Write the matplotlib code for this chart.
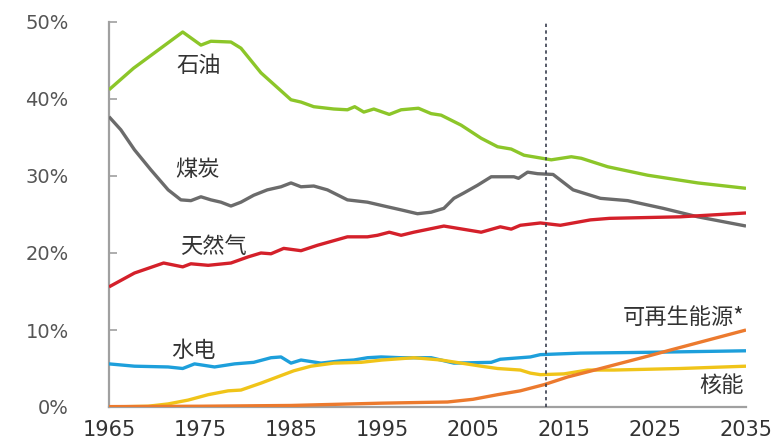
import matplotlib
matplotlib.use("Agg")
import matplotlib.pyplot as plt
import numpy as np

plt.rcParams['font.family'] = ['DejaVu Sans']

# ---- data (share of primary energy, %) ----
oil_years = [1965, 1967.7, 1970, 1973.1, 1975.1, 1976.2, 1978.4, 1979.5, 1981.7, 1985, 1986.1,
             1987.5, 1989.7, 1991.2, 1992, 1993, 1994.1, 1995.8, 1997.1, 1999, 2000.4, 2001.5,
             2003.7, 2005.9, 2007.7, 2009.2, 2010.6, 2012.1, 2013.6, 2015.8, 2016.9, 2019.8,
             2024.2, 2029.7, 2035]
oil = [41.2, 44.0, 46.0, 48.7, 47.0, 47.5, 47.4, 46.6, 43.4, 39.9, 39.6,
       39.0, 38.7, 38.6, 39.0, 38.3, 38.7, 38.0, 38.6, 38.8, 38.1, 37.9,
       36.6, 34.9, 33.8, 33.5, 32.7, 32.4, 32.1, 32.5, 32.3, 31.2,
       30.1, 29.1, 28.4]

coal_years = [1965, 1966.3, 1967.8, 1969.6, 1971.5, 1972.9, 1974, 1975.1, 1976.2, 1977.3, 1978.4,
              1979.5, 1980.9, 1982.4, 1983.9, 1985, 1986.1, 1987.5, 1989, 1991.2, 1993.4, 1995.6,
              1997.1, 1998.9, 2000.4, 2001.8, 2002.9, 2004, 2005.5, 2007, 2009.5, 2010, 2011,
              2012.1, 2013.8, 2016, 2019, 2022, 2025.9, 2029.7, 2035]
coal = [37.7, 36.0, 33.4, 30.8, 28.2, 26.9, 26.8, 27.3, 26.9, 26.6, 26.1,
        26.6, 27.5, 28.2, 28.6, 29.1, 28.6, 28.7, 28.2, 26.9, 26.6, 26.0,
        25.6, 25.1, 25.3, 25.8, 27.1, 27.8, 28.8, 29.9, 29.9, 29.7, 30.5,
        30.3, 30.2, 28.2, 27.1, 26.8, 25.8, 24.7, 23.5]

gas_years = [1965, 1967.8, 1971, 1973.1, 1974, 1975.9, 1978.4, 1980.3, 1981.7, 1982.8, 1984.2,
             1986.1, 1987.9, 1989.7, 1991.2, 1993.4, 1994.5, 1995.8, 1997.1, 1998.5, 2001.8,
             2005.9, 2008, 2009.2, 2010.2, 2012.4, 2014.6, 2017.9, 2020, 2027.8, 2035]
gas = [15.6, 17.4, 18.7, 18.2, 18.6, 18.4, 18.7, 19.5, 20.0, 19.9, 20.6,
       20.3, 21.0, 21.6, 22.1, 22.1, 22.3, 22.7, 22.3, 22.7, 23.5,
       22.7, 23.4, 23.1, 23.6, 23.9, 23.6, 24.3, 24.5, 24.7, 25.2]

hydro_years = [1965, 1967.8, 1971.5, 1973.1, 1974.4, 1976.6, 1978.8, 1980.9, 1982.8, 1983.9, 1985,
               1986.1, 1988.3, 1990.5, 1991.9, 1993.4, 1994.9, 1997.1, 2000.4, 2002.9, 2007,
               2008, 2011.3, 2012.4, 2016.8, 2024.2, 2035]
hydro = [5.6, 5.3, 5.2, 5.0, 5.6, 5.2, 5.6, 5.8, 6.4, 6.5, 5.7,
         6.1, 5.7, 6.0, 6.1, 6.4, 6.5, 6.4, 6.4, 5.7, 5.8,
         6.2, 6.5, 6.8, 7.0, 7.1, 7.3]

nuclear_years = [1965, 1969.3, 1971.5, 1973.7, 1975.9, 1978.1, 1979.5, 1981.7, 1983.5, 1985.3,
                 1987.2, 1989.7, 1992.7, 1995, 1998.5, 2001.5, 2005.9, 2007.7, 2010.2, 2011.3,
                 2012.4, 2015, 2017.6, 2020.5, 2027.8, 2035]
nuclear = [0.0, 0.1, 0.4, 0.9, 1.6, 2.1, 2.2, 3.1, 3.9, 4.7,
           5.3, 5.7, 5.8, 6.1, 6.4, 6.1, 5.3, 5.0, 4.8, 4.4,
           4.2, 4.3, 4.8, 4.8, 5.0, 5.3]

renew_years = [1965, 1975, 1985, 1995, 2002.2, 2005, 2007.7, 2010.2, 2012.8, 2015.4, 2018.7,
               2024.2, 2026.7, 2035]
renew = [0.05, 0.1, 0.2, 0.5, 0.65, 1.0, 1.6, 2.1, 2.9, 3.9, 4.9,
         6.6, 7.4, 10.0]

x_ticks = [1965, 1975, 1985, 1995, 2005, 2015, 2025, 2035]
y_ticks = [0, 10, 20, 30, 40, 50]
y_labels = ['0%', '10%', '20%', '30%', '40%', '50%']
divider_year = 2013

# ---- figure ----
W, H = 781, 442
fig = plt.figure(figsize=(W / 100, H / 100), dpi=100)
ax = fig.add_axes([109 / W, 1 - 407 / H, (746 - 109) / W, (407 - 22) / H])

lw = 2.4
kw = dict(lw=lw, solid_capstyle='butt', solid_joinstyle='round')
ax.plot(oil_years, oil, color='#8cc629', zorder=3, **kw)
ax.plot(coal_years, coal, color='#6b6b6b', zorder=3, **kw)
ax.plot(gas_years, gas, color='#d4202a', zorder=3, **kw)
ax.plot(hydro_years, hydro, color='#1d9fdb', zorder=3, **kw)
ax.plot(nuclear_years, nuclear, color='#f0c419', zorder=3, **kw)
ax.plot(renew_years, renew, color='#ec7a2e', zorder=4, **kw)

ax.axvline(divider_year, color='#3a3f4f', lw=1.2, ls=(0, (2, 2)), zorder=5)

ax.set_xlim(1965, 2035)
ax.set_ylim(0, 50)
ax.set_xticks(x_ticks)
ax.set_xticklabels([str(t) for t in x_ticks])
ax.set_yticks(y_ticks)
ax.set_yticklabels(y_labels)

for s in ['top', 'right']:
    ax.spines[s].set_visible(False)
for s in ['left', 'bottom']:
    ax.spines[s].set_color('#a0a0a0')
    ax.spines[s].set_linewidth(1.6)

ax.tick_params(axis='y', direction='in', length=6, width=1.2, color='#a0a0a0',
               labelsize=14, labelcolor='#555555', pad=29)
ax.tick_params(axis='x', length=0, labelsize=15, labelcolor='#333333', pad=9)

cjk = ['Noto Sans CJK SC', 'DejaVu Sans']
tc = '#333333'
fs = 16
ax.text(1974.8, 44.3, '石油', family=cjk, fontsize=fs, color=tc, ha='center', va='center')
ax.text(1974.7, 30.8, '煤炭', family=cjk, fontsize=fs, color=tc, ha='center', va='center')
ax.text(1976.5, 20.8, '天然气', family=cjk, fontsize=fs, color=tc, ha='center', va='center')
ax.text(1974.3, 7.3, '水电', family=cjk, fontsize=fs, color=tc, ha='center', va='center')
ax.text(2034.8, 11.6, '可再生能源*', family=cjk, fontsize=fs, color=tc, ha='right', va='center')
ax.text(2034.8, 2.75, '核能', family=cjk, fontsize=fs, color=tc, ha='right', va='center')

fig.savefig('out.png', dpi=100)
